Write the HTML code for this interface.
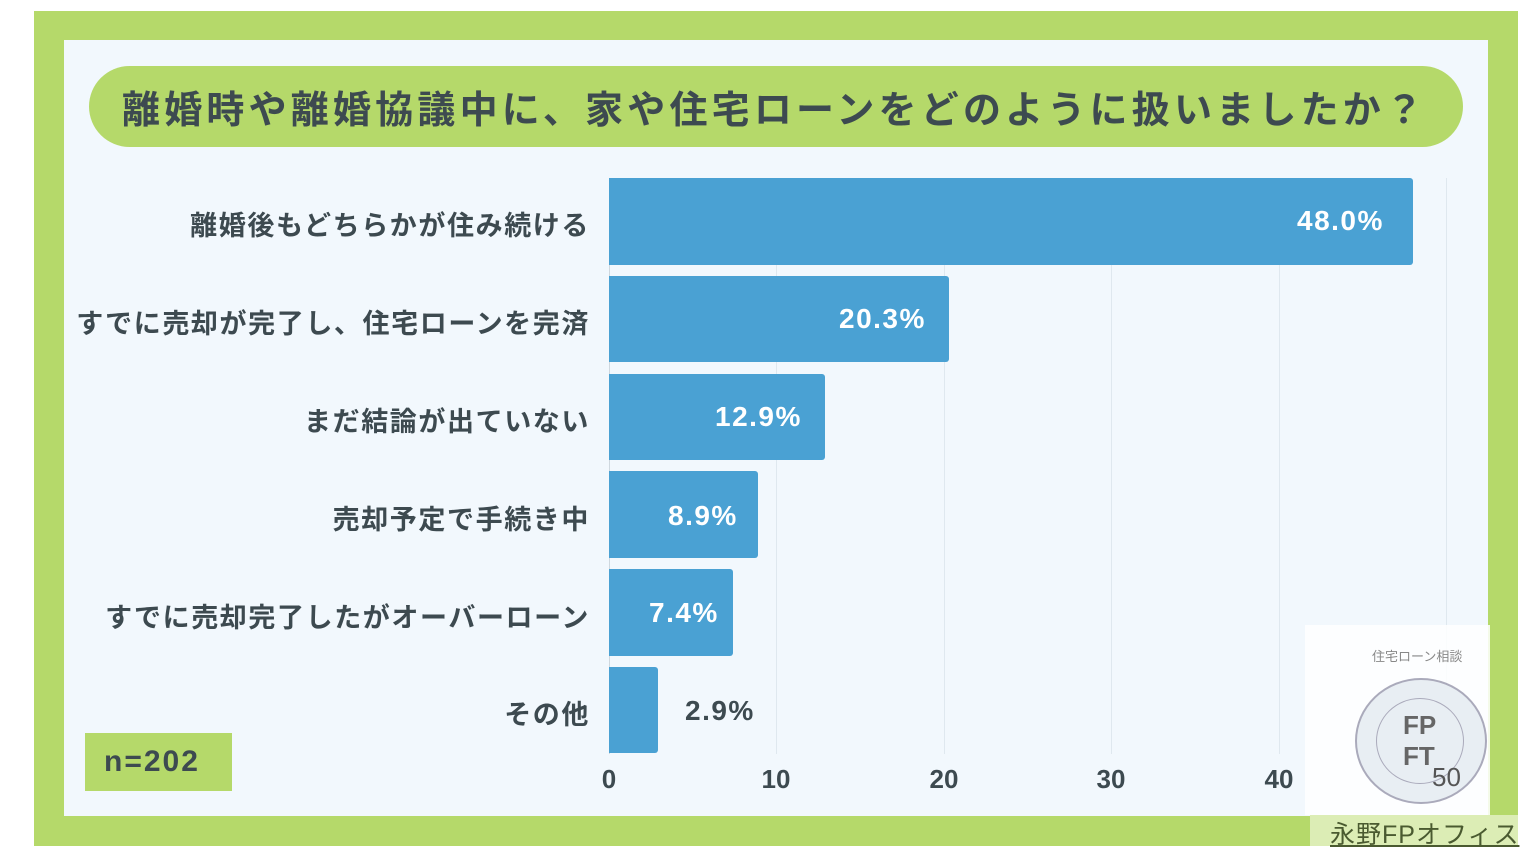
<!DOCTYPE html>
<html><head><meta charset="utf-8"><style>
body{margin:0;width:1540px;height:864px;background:#fff;position:relative;overflow:hidden;font-family:"Liberation Sans","Noto Sans CJK JP",sans-serif;}
.a{position:absolute}
.lab{position:absolute;right:950px;font-size:27px;font-weight:bold;color:#3d4a50;white-space:nowrap;letter-spacing:1.6px}
.bar{position:absolute;left:609px;background:#4aa1d3;border-radius:0 3px 3px 0}
.v{position:absolute;font-size:28px;font-weight:bold;color:#fff;letter-spacing:1.5px}
.g{position:absolute;top:178px;height:576px;width:1px;background:#dfe8ef}
.t{position:absolute;top:764px;font-size:26px;font-weight:bold;color:#3d4a50;width:60px;margin-left:-30px;text-align:center}
</style></head><body>
<div class="a" style="left:34px;top:11px;width:1484px;height:835px;background:#b5d96a"></div>
<div class="a" style="left:64px;top:40px;width:1424px;height:776px;background:#f2f8fd"></div>
<div class="a" style="left:89px;top:66px;width:1374px;height:81px;border-radius:41px;background:#b5d96a"></div>
<div class="a" style="left:122px;top:79px;font-size:38px;font-weight:bold;color:#3d4a50;letter-spacing:4.2px;white-space:nowrap">離婚時や離婚協議中に、家や住宅ローンをどのように扱いましたか？</div>
<div class="g" style="left:776px"></div><div class="g" style="left:944px"></div><div class="g" style="left:1111px"></div><div class="g" style="left:1279px"></div><div class="g" style="left:1446px"></div>
<div class="g" style="left:609px;background:#cfd8df"></div>
<div class="bar" style="top:178px;height:87px;width:804px"></div><div class="v" style="top:205px;left:1297px">48.0%</div>
<div class="bar" style="top:276px;height:86px;width:340px"></div><div class="v" style="top:303px;left:839px">20.3%</div>
<div class="bar" style="top:374px;height:86px;width:216px"></div><div class="v" style="top:401px;left:715px">12.9%</div>
<div class="bar" style="top:471px;height:87px;width:149px"></div><div class="v" style="top:500px;left:668px">8.9%</div>
<div class="bar" style="top:569px;height:87px;width:124px"></div><div class="v" style="top:597px;left:649px">7.4%</div>
<div class="bar" style="top:667px;height:86px;width:49px"></div><div class="v" style="top:695px;left:685px;color:#3d4a50">2.9%</div>
<div class="lab" style="top:204px">離婚後もどちらかが住み続ける</div>
<div class="lab" style="top:302px">すでに売却が完了し、住宅ローンを完済</div>
<div class="lab" style="top:400px">まだ結論が出ていない</div>
<div class="lab" style="top:498px">売却予定で手続き中</div>
<div class="lab" style="top:596px">すでに売却完了したがオーバーローン</div>
<div class="lab" style="top:693px">その他</div>
<div class="t" style="left:609px">0</div><div class="t" style="left:776px">10</div><div class="t" style="left:944px">20</div><div class="t" style="left:1111px">30</div><div class="t" style="left:1279px">40</div><div class="t" style="left:1446px">50</div>
<div class="a" style="left:85px;top:733px;width:147px;height:58px;background:#b5d96a"></div>
<div class="a" style="left:104px;top:745px;font-size:30px;font-weight:bold;color:#3d4a50;letter-spacing:2px">n=202</div>
<div class="a" style="left:1305px;top:625px;width:185px;height:190px;background:rgba(255,255,255,0.85)"></div>
<div class="a" style="left:1310px;top:815px;width:208px;height:31px;background:#dcedb5"></div>
<div class="a" style="left:1372px;top:646px;font-size:13px;color:#888">住宅ローン相談</div>
<div class="a" style="left:1355px;top:678px;width:128px;height:122px;border-radius:50%;border:2px solid #aab;background:#e8eef3"></div>
<div class="a" style="left:1376px;top:698px;width:86px;height:84px;border-radius:50%;border:1px solid #aab"></div>
<div class="a" style="left:1403px;top:710px;font-size:26px;font-weight:bold;color:#666;line-height:31px">FP<br>FT</div>
<div class="a" style="left:1432px;top:762px;font-size:26px;color:#555">50</div>
<div class="a" style="left:1330px;top:815px;font-size:25px;color:#4a5a30;text-decoration:underline;letter-spacing:1px">永野FPオフィス</div>
</body></html>
